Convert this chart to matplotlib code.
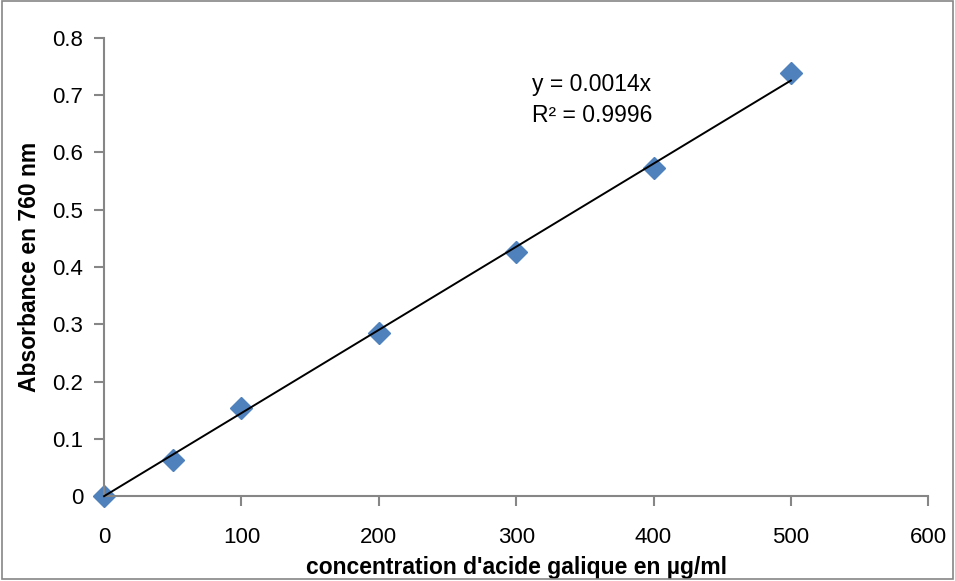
import numpy as np
import matplotlib.pyplot as plt
from matplotlib.patches import Rectangle

# Courbe d'étalonnage de l'acide galique
concentration = [0, 50, 100, 200, 300, 400, 500]
absorbance = [0.0, 0.064, 0.154, 0.285, 0.426, 0.573, 0.738]
equation = 'y = 0.0014x'
r2_text = 'R² = 0.9996'

plt.rcParams['font.family'] = ['Liberation Sans', 'DejaVu Sans']

fig = plt.figure(figsize=(9.55, 5.81), dpi=100)
ax = fig.add_axes([0.109, 0.146, 0.863, 0.789])

x = np.array(concentration, dtype=float)
y = np.array(absorbance)
pente = np.sum(x * y) / np.sum(x * x)
xs = np.array([0, 500])
ax.plot(x, y, linestyle='none', marker='D', markersize=11, color='#4F81BD', zorder=2, clip_on=False)
ax.plot(xs, pente * xs, color='black', linewidth=1.4, zorder=3, clip_on=False)

ax.text(355, 0.718, equation, ha='center', va='center', fontsize=16.5)
ax.text(355, 0.664, r2_text, ha='center', va='center', fontsize=16.5)

ax.set_xlim(0, 600)
ax.set_ylim(0, 0.8)
ax.set_xticks(range(0, 601, 100))
ax.set_yticks(np.arange(0, 0.81, 0.1))
ax.set_yticklabels(['0', '0.1', '0.2', '0.3', '0.4', '0.5', '0.6', '0.7', '0.8'])
for s in ['top', 'right']:
    ax.spines[s].set_visible(False)
for s in ['left', 'bottom']:
    ax.spines[s].set_color('#868686')
    ax.spines[s].set_linewidth(1.5)
ax.tick_params(axis='both', direction='out', length=7, width=1.5, color='#868686', labelsize=16)
ax.tick_params(axis='y', pad=8)
ax.tick_params(axis='x', pad=15)
ax.set_xlabel("concentration d'acide galique en µg/ml", fontsize=16.5, fontweight='bold', labelpad=6)
ax.set_ylabel('Absorbance en 760 nm', fontsize=16.5, fontweight='bold', labelpad=8)

fig.patches.append(Rectangle((0.002, 0.003), 0.996, 0.995, transform=fig.transFigure,
                             fill=False, edgecolor='#868686', linewidth=1.2))
fig.savefig('out.png', dpi=100)
